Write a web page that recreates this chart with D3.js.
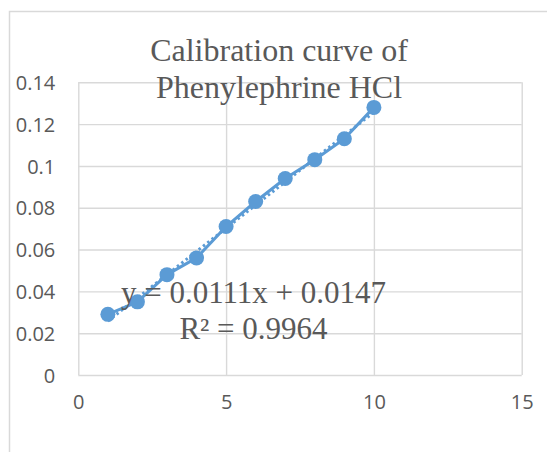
<!DOCTYPE html>
<html>
<head>
<meta charset="utf-8">
<script src="https://cdn.jsdelivr.net/npm/d3@7"></script>
<style>
  body { margin: 0; background: #fff; }
  svg { display: block; }
</style>
</head>
<body>
<div id="chart"></div>
<script>
// concentration vs absorbance
const concentrations = [1, 2, 3, 4, 5, 6, 7, 8, 9, 10];
const absorbances = [0.029, 0.035, 0.048, 0.056, 0.071, 0.083, 0.094, 0.103, 0.113, 0.128];
const xTicks = [0, 5, 10, 15];
const yTicks = [0, 0.02, 0.04, 0.06, 0.08, 0.1, 0.12, 0.14];
const titleLines = ["Calibration curve of", "Phenylephrine HCl"];
const slope = 0.0111, intercept = 0.0147;
const equationLines = ["y = 0.0111x + 0.0147", "R² = 0.9964"];

const W = 547, H = 452;
const blue = "#5b9bd5", grid = "#d9d9d9", textCol = "#595959";

const svg = d3.select("#chart").append("svg")
    .attr("width", W).attr("height", H);

// chart area border (runs off the right and bottom edges)
svg.append("rect")
    .attr("x", 9.5).attr("y", 11.5)
    .attr("width", W + 20).attr("height", H + 20)
    .attr("fill", "none").attr("stroke", grid).attr("stroke-width", 1.5);

const x = d3.scaleLinear().domain([0, 15]).range([78.3, 521.7]);
const y = d3.scaleLinear().domain([0, 0.14]).range([375, 82.3]);

// gridlines + tick labels
const gx = svg.append("g")
    .attr("transform", `translate(0,${y(0)})`)
    .call(d3.axisBottom(x).tickValues(xTicks).tickSize(-(y(0) - y(0.14))).tickPadding(20).tickFormat(d3.format("d")));
const gy = svg.append("g")
    .attr("transform", `translate(${x(0)},0)`)
    .call(d3.axisLeft(y).tickValues(yTicks).tickSize(-(x(15) - x(0))).tickPadding(23).tickFormat(d => d === 0 ? "0" : d3.format("")(+d.toFixed(2))));

[gx, gy].forEach(g => {
    g.select(".domain").remove();
    g.selectAll("line").attr("stroke", grid).attr("stroke-width", 1.4);
    g.selectAll("text")
        .attr("fill", textCol)
        .style("font-family", "'Open Sans', sans-serif")
        .style("font-size", "20px");
});
gy.selectAll("text").attr("dy", "0.36em");

// linear trendline (dotted)
svg.append("line")
    .attr("x1", x(1)).attr("y1", y(slope * 1 + intercept))
    .attr("x2", x(10)).attr("y2", y(slope * 10 + intercept))
    .attr("stroke", blue).attr("stroke-width", 3)
    .attr("stroke-dasharray", "2.5 3");

const pts = concentrations.map((c, i) => ({ c, a: absorbances[i] }));

// series line
svg.append("path")
    .datum(pts)
    .attr("fill", "none")
    .attr("stroke", blue)
    .attr("stroke-width", 3)
    .attr("stroke-linejoin", "round")
    .attr("d", d3.line().x(d => x(d.c)).y(d => y(d.a)));

// markers
svg.selectAll("circle.pt")
    .data(pts)
    .join("circle")
    .attr("class", "pt")
    .attr("cx", d => x(d.c))
    .attr("cy", d => y(d.a))
    .attr("r", 7.5)
    .attr("fill", blue);

// title
svg.append("text")
    .attr("fill", textCol)
    .style("font-family", "'Liberation Serif', 'Times New Roman', serif")
    .style("font-size", "32px")
    .attr("text-anchor", "middle")
    .selectAll("tspan")
    .data(titleLines)
    .join("tspan")
    .attr("x", 279)
    .attr("y", (d, i) => 60.7 + i * 37)
    .text(d => d);

// trendline equation
svg.append("text")
    .attr("fill", textCol)
    .style("font-family", "'Liberation Serif', 'Times New Roman', serif")
    .style("font-size", "31px")
    .attr("text-anchor", "middle")
    .selectAll("tspan")
    .data(equationLines)
    .join("tspan")
    .attr("x", 253.5)
    .attr("y", (d, i) => 303.3 + i * 36)
    .text(d => d);
</script>
</body>
</html>
